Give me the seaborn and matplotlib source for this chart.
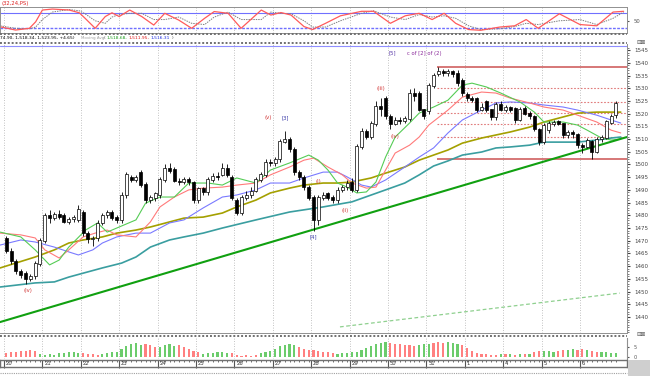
import numpy as np
import matplotlib
matplotlib.use("Agg")
import matplotlib.pyplot as plt
from matplotlib.lines import Line2D
from matplotlib.patches import Rectangle
import seaborn as sns

# ---- hourly candles (one list per field) ----
opens = [1471, 1466, 1462, 1458, 1457, 1455, 1456, 1461, 1470, 1480,
         1479, 1480.5, 1480, 1477.5, 1478.5, 1478, 1481, 1473, 1470.5, 1471,
         1477, 1480, 1481, 1479, 1478, 1488, 1495, 1494, 1497, 1492,
         1486, 1487, 1488, 1494, 1498.5, 1498, 1493.5, 1493, 1494, 1493,
         1486, 1490.5, 1489, 1494, 1495.5, 1496, 1498.5, 1495, 1486, 1481,
         1487, 1488, 1489.5, 1494, 1496, 1501, 1500.5, 1502, 1509, 1510,
         1506, 1497, 1495, 1491, 1487, 1478, 1487, 1488.5, 1487, 1486,
         1490, 1491, 1493, 1490, 1507, 1513, 1511, 1516, 1523, 1526,
         1519, 1516, 1517.5, 1517, 1518, 1528, 1528, 1521.5, 1521, 1531,
         1535.5, 1536.5, 1536, 1536.5, 1536, 1533, 1527.5, 1526, 1526, 1521.5,
         1525, 1521.5, 1518.5, 1523.5, 1521.5, 1522.5, 1522, 1517.5, 1522, 1520,
         1519, 1514, 1509, 1513.5, 1516, 1517, 1516, 1511.5, 1512.5, 1512,
         1507.5, 1507, 1509, 1505, 1510, 1510.5, 1516.5, 1519.5]
highs = [1472, 1467, 1463, 1459, 1458, 1457, 1462, 1471, 1481, 1482,
         1481.5, 1482, 1481, 1479.5, 1480, 1484, 1482, 1474, 1472, 1478,
         1481, 1482, 1482, 1480, 1489, 1497, 1496, 1496, 1498, 1493,
         1488, 1489, 1495, 1500, 1500.5, 1499, 1494.5, 1495, 1495, 1493.5,
         1491, 1491, 1495, 1496.5, 1497, 1500.5, 1500, 1496, 1487, 1488,
         1489.5, 1491, 1495, 1497, 1502, 1502, 1503, 1510, 1513, 1511,
         1507, 1498, 1496, 1492, 1488, 1488, 1489, 1489, 1488, 1491,
         1492, 1494, 1494.5, 1508, 1514.5, 1514, 1517, 1525, 1526, 1527,
         1520, 1518.5, 1518.5, 1519, 1529.5, 1530, 1529, 1522, 1532, 1536,
         1538.4, 1537.5, 1537.5, 1537, 1537, 1534, 1528.5, 1527, 1526.5, 1524,
         1525.5, 1522, 1524.5, 1525, 1523.5, 1523, 1522.5, 1522.5, 1523, 1521,
         1519.5, 1514.5, 1516.5, 1517, 1517.5, 1517.5, 1516.5, 1513.5, 1513.5, 1512.5,
         1508.5, 1510.5, 1509.5, 1511, 1511.5, 1517.5, 1520, 1524.9]
lows = [1465, 1461, 1457, 1455.5, 1453, 1454, 1455, 1460, 1469, 1477,
        1478, 1478.5, 1477, 1476.5, 1477.5, 1477.5, 1472, 1469, 1468, 1470,
        1476, 1479, 1478, 1477, 1477, 1487, 1493, 1493, 1491, 1485,
        1485, 1485.5, 1487, 1493, 1496.5, 1493, 1492, 1492.5, 1492, 1485,
        1485, 1488, 1488, 1493, 1494, 1495.5, 1495, 1486, 1480, 1480,
        1486, 1487, 1489, 1493, 1495, 1499.5, 1499.5, 1501, 1508.5, 1505,
        1496, 1494, 1490, 1486, 1474, 1476, 1486, 1486, 1485, 1485,
        1489, 1490, 1489, 1489, 1506, 1510, 1510, 1515, 1519, 1518,
        1514, 1515.5, 1516, 1516.5, 1517, 1525, 1521, 1518, 1520, 1530,
        1535, 1535, 1535, 1534.5, 1531, 1527, 1525, 1524.5, 1520.5, 1521,
        1520.5, 1517.5, 1517.5, 1521, 1520.5, 1520.5, 1516.5, 1517, 1519.5, 1518,
        1513, 1507.5, 1508, 1512.5, 1515, 1515.5, 1510.5, 1510.5, 1510.5, 1506.5,
        1504.5, 1506.5, 1502.3, 1504.5, 1509, 1510, 1516, 1518.34]
closes = [1466, 1462, 1458, 1456.5, 1455, 1456, 1461, 1470, 1480, 1479,
          1480.5, 1479.5, 1477.5, 1478.5, 1479, 1482.5, 1473, 1470.5, 1471, 1477,
          1480, 1481, 1479, 1478, 1488, 1496, 1494, 1495, 1492, 1486,
          1487, 1488.5, 1494, 1498.5, 1497.5, 1493.5, 1493, 1494, 1493, 1486,
          1490.5, 1489, 1494, 1495.5, 1495, 1498.5, 1496, 1487, 1481, 1487,
          1488, 1489.5, 1494, 1496, 1501, 1500.5, 1502, 1509, 1510, 1506,
          1497, 1495, 1491, 1487, 1478, 1487, 1488, 1487, 1486, 1490,
          1491, 1492.5, 1490, 1507, 1513, 1511, 1516, 1523, 1522, 1519,
          1516, 1517.5, 1517, 1518, 1528, 1527, 1521.5, 1519, 1531, 1535,
          1536.5, 1536, 1536.5, 1535.5, 1532, 1528, 1526, 1525.5, 1521.5, 1522.5,
          1521.5, 1518.5, 1523.5, 1521.5, 1522.5, 1521.5, 1517.5, 1521.5, 1520, 1519,
          1514, 1509, 1515.5, 1516, 1516.5, 1516, 1511.5, 1512.5, 1512, 1507.5,
          1507, 1509.5, 1505, 1510, 1510.5, 1517, 1519, 1523.95]

# ---- moving averages (bar index, price) ----
green_idx = [-1.3, 3, 6, 9, 11, 13, 16.5, 19, 21, 23.5, 27, 29, 32, 35, 38, 42, 45, 48,
             52, 55, 59, 63, 65, 67, 69, 71, 73, 75, 77, 79, 81, 84, 86, 89, 92, 95,
             97, 100, 103, 107, 110, 112, 116, 119, 121, 124, 126, 128]
green_ma = [1473.4, 1471.5, 1466.4, 1460.5, 1462.4, 1467.5, 1474.2, 1477.0, 1473.4,
            1475.4, 1478.2, 1484.8, 1487.2, 1487.2, 1492.7, 1492.7, 1491.9, 1494.7,
            1492.7, 1497.8, 1500.6, 1503.7, 1501.7, 1497.8, 1492.7, 1491.1, 1488.8,
            1489.2, 1493.1, 1502.9, 1510.8, 1516.3, 1520.2, 1522.6, 1525.3, 1531.2,
            1532.0, 1530.5, 1528.1, 1524.6, 1520.6, 1516.7, 1516.7, 1515.5, 1513.5,
            1510.4, 1509.6, 1510.0]
red_idx = [-1.3, 3, 6, 8, 11, 13, 16, 18.5, 21, 23, 27, 30, 32, 35, 38, 41, 45, 48,
           52, 55, 59, 62, 64, 67, 70, 72, 75, 77, 79, 81, 84, 86, 88, 92, 95, 99,
           102, 105, 109, 112, 116, 119, 123, 126, 128]
red_ma = [1473.0, 1472.3, 1471.1, 1466.4, 1463.2, 1466.4, 1471.5, 1473.0, 1474.2,
          1472.3, 1471.5, 1477.4, 1483.3, 1487.2, 1490.0, 1490.7, 1491.1, 1491.9,
          1492.7, 1495.9, 1499.0, 1501.7, 1502.5, 1499.0, 1495.9, 1492.7, 1490.7,
          1491.1, 1497.8, 1504.5, 1507.6, 1510.8, 1515.5, 1521.4, 1526.5, 1528.5,
          1528.1, 1526.1, 1524.2, 1522.6, 1521.4, 1519.4, 1516.7, 1513.5, 1512.4]
blue_idx = [-1.3, 3, 6, 10, 13, 15, 18, 20, 23, 27, 30, 34, 37, 41, 45, 48, 52, 55,
            59, 62, 66, 69, 71, 74, 76, 79, 83, 86, 89, 92, 95, 99, 102, 105, 109,
            112, 116, 119, 123, 126, 128]
blue_ma = [1468.3, 1470.3, 1469.5, 1467.5, 1465.6, 1464.4, 1466.4, 1469.1, 1471.5,
           1473.0, 1473.0, 1477.0, 1478.2, 1482.9, 1487.2, 1488.0, 1490.0, 1492.7,
           1492.7, 1494.7, 1497.0, 1497.0, 1495.1, 1491.9, 1491.1, 1493.9, 1499.0,
           1502.9, 1506.5, 1512.4, 1517.5, 1521.4, 1524.2, 1524.6, 1524.2, 1523.4,
           1522.6, 1521.4, 1519.4, 1517.5, 1516.3]
olive_idx = [-1.3, 6, 10, 13, 16, 20, 23, 27, 30, 34, 37, 41, 45, 48, 52, 55, 59, 62,
             66, 69, 72, 76, 79, 83, 86, 89, 92, 95, 99, 102, 105, 109, 112, 116,
             119, 123, 126, 128]
olive_ma = [1459.3, 1463.6, 1466.4, 1469.1, 1470.3, 1471.5, 1473.0, 1474.2, 1475.4,
            1477.4, 1478.9, 1479.3, 1480.9, 1483.3, 1486.0, 1488.8, 1490.7, 1491.9,
            1492.7, 1492.7, 1493.1, 1494.7, 1496.6, 1499.0, 1501.7, 1503.7, 1505.7,
            1508.4, 1510.4, 1511.6, 1512.8, 1514.7, 1516.7, 1518.7, 1520.2, 1520.6,
            1520.6, 1520.6]
teal_idx = [-1.3, 6, 10, 13, 20, 24, 27, 30, 34, 37, 41, 45, 52, 59, 66, 72, 79, 83,
            86, 89, 92, 95, 99, 102, 105, 109, 112, 116, 119, 123, 126, 128]
teal_ma = [1451.8, 1453.4, 1453.8, 1455.7, 1459.3, 1461.2, 1463.6, 1467.5, 1470.3,
           1471.5, 1473.0, 1475.0, 1478.2, 1481.3, 1483.3, 1485.3, 1490.0, 1492.7,
           1495.9, 1499.4, 1501.4, 1503.7, 1504.9, 1506.5, 1506.9, 1507.6, 1508.8,
           1508.8, 1508.8, 1509.6, 1510.4, 1510.8]

# trend line and lower channel line
trend_idx = [-1.33, 129.3]
trend_val = [1438.0, 1510.8]
chan_idx = [69.5, 127.8]
chan_val = [1436.1, 1449.4]

# retracement levels (high .. low)
fib_levels = [1538.4, 1529.9, 1524.6, 1520.35, 1516.1, 1510.8, 1502.3]
fib_start = 89.7

# wave labels
wave_text = ["(iv)", "(v)", "[3]", "(i)", "[4]", "(ii)", "(iii)", "(iv)", "[5]", "c of [2] of (2)"]
wave_idx = [4.5, 54.5, 58, 65, 64, 70.5, 78, 81, 80.5, 83.5]
wave_price = [1450.6, 1518.3, 1518.3, 1493.5, 1471.5, 1481.7, 1530.0, 1511.2, 1543.8, 1543.8]

# stochastic (top pane)
osc_idx = [-1.3, 1.9, 4.8, 6.1, 7.5, 9.6, 13.1, 15.2, 16.4, 18.5, 20.6, 22, 23.5, 25.7,
           28.2, 30.7, 33, 35.9, 38.6, 41.3, 43.3, 46.2, 48.9, 53.1, 55.1, 57.2, 59.3,
           62, 63.8, 66.5, 69.6, 74, 76.5, 80, 83.1, 86, 88.7, 91.2, 93.6, 96.3, 98.8,
           102.8, 105.9, 108.3, 110.8, 115.2, 119.5, 123, 126.4, 128.6]
stoch_k = [26, 13, 20, 46, 93, 97, 93, 82, 60, 20, 67, 82, 67, 93, 67, 33, 80, 53, 20, 60,
           87, 80, 20, 93, 73, 83, 73, 27, 15, 40, 70, 88, 88, 40, 70, 80, 55, 80, 40, 15,
           12, 25, 30, 55, 20, 78, 35, 30, 85, 88]
stoch_d = [30, 20, 18, 25, 55, 85, 95, 90, 78, 50, 40, 65, 75, 80, 80, 55, 55, 65, 40, 35,
           65, 85, 55, 55, 85, 80, 78, 50, 25, 25, 50, 80, 90, 65, 55, 75, 65, 70, 60, 30,
           15, 18, 27, 40, 35, 50, 55, 35, 60, 85]

# histogram pane (signed)
hist_vals = [-4, -5, -5, -6, -6, -7, -6, 3, 2,
             3, 2, 4, 4, 5, 5, 4, -4, -3, -3, -2, 3, 4, 5, 5,
             8, 11, 13, 14, 12, -13, -12, -10, 10, 12, 13, 11,
             -12, -10, -8, -6, -5, 3, 4, 4, 5, 5, 4, -4,
             -2, -1, -2, -1, -2, 4, 5, 6, 8, 11, 12, 13, 12,
             -10, -8, -7, -7, -6, -5, -5, -4, 3, 4, 4, 5,
             5, 7, 9, 11, 13, 14, 15, -14, -13, -13, -12, -12, -11,
             12, 13, 13, -14, -15, -14, 15, 14, 13, -12, -9, -6,
             -4, -3, -3, -2, -2, 3, -3, 3, -2, 3, -3, 3,
             -5, -6, 6, 6, 5, -6, -7, 7, 8, -7, -8, 7,
             -6, -5, 5, 5, 4, 4]

day_labels = ["20", "21", "22", "23", "24", "25", "26", "27", "28", "29",
              "30", "31", "1", "4", "5", "6"]

header_parts = ["74.90, 1,518.34, 1,523.95, +4.65)", "Moving Avg", "(", "1,518.68,",
                "1,511.95,", "1,516.31", ")"]

sns.set_style("white")
plt.rcParams["font.family"] = ["DejaVu Sans"]

W, H = 650, 376
fig = plt.figure(figsize=(W / 100, H / 100), dpi=100)


def px_axes(x0, y0, x1, y1):
    return fig.add_axes([x0 / W, 1 - y1 / H, (x1 - x0) / W, (y1 - y0) / H])


n = len(closes)
idx = np.arange(n)
o = np.array(opens)
c = np.array(closes)
XL = (-1.33, 129.3)
grid_x = [-0.5 + 8 * k for k in range(16)]
GRID = dict(color="#b0b0b0", lw=0.6, ls=(0, (1, 2)))
FRAME = "#909090"

# ---------------- oscillator pane ----------------
ax_o = px_axes(0, 7, 627, 33)
for gx in grid_x:
    ax_o.axvline(gx, **GRID)
ax_o.axhline(80, color="#7070ff", lw=0.8)
ax_o.axhline(20, color="#7070ff", lw=1.0, ls=(0, (2, 1)))
sns.lineplot(x=osc_idx, y=stoch_d, ax=ax_o, color="#808080", lw=0.7, ls=(0, (1.5, 1)))
sns.lineplot(x=osc_idx, y=stoch_k, ax=ax_o, color="#ff5a5a", lw=0.9)
ax_o.set_xlim(*XL)
ax_o.set_ylim(1.2, 105.2)
ax_o.set_xticks([])
ax_o.yaxis.tick_right()
ax_o.set_yticks([50])
ax_o.tick_params(axis="y", labelsize=3.8, length=1.5, pad=3, colors="#555555")
for s in ax_o.spines.values():
    s.set_color(FRAME)
    s.set_linewidth(0.7)
    s.set_linestyle((0, (1, 1)))
ax_o.spines["right"].set_linestyle("-")
ax_o.set_xlabel("")
ax_o.set_ylabel("")
fig.text(2 / W, 1 - 3 / H, "(32,24,PS)", fontsize=3.8, color="#dd2222", va="center")

# ---------------- header ----------------
hx = [0, 81, 104, 107, 129, 151, 172]
hc = ["#000000", "#a0a0a0", "#444444", "#1a9a1a", "#e01818", "#1a2ae0", "#444444"]
hs = [3.2, 2.9, 3.2, 3.2, 3.2, 3.2, 3.2]
for x0, txt, col, fs in zip(hx, header_parts, hc, hs):
    fig.text(x0 / W, 1 - 38 / H, txt, fontsize=fs, color=col, va="center")

for yy in (34, 42.5):
    fig.add_artist(Line2D([0, 627 / W], [1 - yy / H] * 2, color="#707070", lw=1.4,
                          ls=(0, (1, 1))))

# ---------------- main price pane ----------------
ax = px_axes(0, 44, 627, 333)
for gx in grid_x:
    ax.axvline(gx, **GRID)
ax.axhline(1546.8, color="#8f8fff", lw=0.8)

ax.hlines(fib_levels[1:-1], fib_start, XL[1], color="#e07a7a", lw=0.8, ls=(0, (1.5, 1.5)))
ax.hlines([fib_levels[0], fib_levels[-1]], fib_start, XL[1], color="#d06060", lw=1.2)

sns.lineplot(x=teal_idx, y=teal_ma, ax=ax, color="#3a9ea0", lw=1.2)
sns.lineplot(x=olive_idx, y=olive_ma, ax=ax, color="#a4a000", lw=1.2)
sns.lineplot(x=blue_idx, y=blue_ma, ax=ax, color="#7a7aff", lw=0.8)
sns.lineplot(x=red_idx, y=red_ma, ax=ax, color="#ff7a7a", lw=0.8)
sns.lineplot(x=green_idx, y=green_ma, ax=ax, color="#55cc55", lw=0.8)
sns.lineplot(x=trend_idx, y=trend_val, ax=ax, color="#10a010", lw=1.5)
sns.lineplot(x=chan_idx, y=chan_val, ax=ax, color="#8fd08f", lw=0.9, ls=(0, (3, 2)))

up = c >= o
ax.vlines(idx, lows, highs, color="black", lw=0.6, zorder=4)
ax.bar(idx, np.abs(c - o) + 0.15, bottom=np.minimum(o, c), width=0.62,
       color=np.where(up, "white", "black"), edgecolor="black", lw=0.5, zorder=5)

wave_col = {"(": "#d03030", "[": "#3a3aa8", "c": "#8a2a9a"}
for t, xi, yv in zip(wave_text, wave_idx, wave_price):
    col = wave_col[t[0]]
    if t == "[5]":
        col = "#5a3aa8"
    ax.text(xi, yv, t, fontsize=3.8, color=col, ha="left" if t[0] == "c" else "center",
            va="center", zorder=6)

ax.set_xlim(*XL)
ax.set_ylim(1433.7, 1547.4)
ax.set_xticks([])
ax.yaxis.tick_right()
ax.set_yticks(np.arange(1440, 1546, 5))
ax.set_yticks(np.arange(1434, 1547, 1), minor=True)
ax.tick_params(axis="y", which="major", labelsize=4, length=2.5, pad=3, colors="#444444")
ax.tick_params(axis="y", which="minor", length=1.2, colors="#666666")
for s in ax.spines.values():
    s.set_color(FRAME)
    s.set_linewidth(0.7)
ax.spines["left"].set_visible(False)
ax.spines["top"].set_visible(False)
ax.spines["bottom"].set_linestyle((0, (1, 1)))
ax.set_xlabel("")
ax.set_ylabel("")

fig.text(641 / W, 1 - 42 / H, "\u229f\u22a0", fontsize=4, color="#555555", ha="center", va="center")
fig.text(641 / W, 1 - 334 / H, "\u229f\u22a0", fontsize=4, color="#555555", ha="center", va="center")
fig.add_artist(Line2D([0, 627 / W], [1 - 335.5 / H] * 2, color="#707070", lw=1.4,
                      ls=(0, (1, 1))))

# ---------------- histogram pane ----------------
ax_h = px_axes(0, 338, 627, 359)
hv = np.array(hist_vals, dtype=float)
for gx in grid_x:
    ax_h.axvline(gx, **GRID)
ax_h.bar(idx, np.abs(hv), bottom=0, width=0.45,
         color=np.where(hv >= 0, "#6ccc6c", "#ff8080"), lw=0)
ax_h.set_xlim(*XL)
ax_h.set_ylim(-2, 19)
ax_h.set_xticks([])
ax_h.yaxis.tick_right()
ax_h.set_yticks([0, 10])
ax_h.set_yticklabels(["0", "5"])
ax_h.tick_params(axis="y", labelsize=3.5, length=1.5, pad=3, colors="#555555")
for s in ax_h.spines.values():
    s.set_visible(False)
ax_h.spines["right"].set_visible(True)
ax_h.spines["right"].set_color(FRAME)

# ---------------- date strip ----------------
ax_d = px_axes(0, 360, 627, 367)
ax_d.set_xlim(*XL)
ax_d.set_ylim(0, 1)
ax_d.set_yticks([])
ax_d.set_xticks(idx, minor=True)
ax_d.set_xticks(grid_x)
ax_d.set_xticklabels([])
ax_d.xaxis.tick_top()
ax_d.tick_params(axis="x", which="both", direction="in", length=1.5, color="#555555")
ax_d.tick_params(axis="x", which="major", length=6)
for gx, lab in zip(grid_x, day_labels):
    ax_d.text(gx + 0.4, 0.45, lab, fontsize=3.8, color="#333333", va="center", ha="left")
for s in ax_d.spines.values():
    s.set_color("#707070")
    s.set_linewidth(1.0)
    s.set_linestyle((0, (1, 1)))
fig.add_artist(Line2D([0, 627 / W], [1 - 372.5 / H] * 2, color="#a0a0a0", lw=0.8,
                      ls=(0, (1, 1))))
fig.add_artist(Rectangle((628 / W, 0), 22 / W, 16 / H, color="#cfcfcf", lw=0))

fig.savefig("out.png", dpi=100)
